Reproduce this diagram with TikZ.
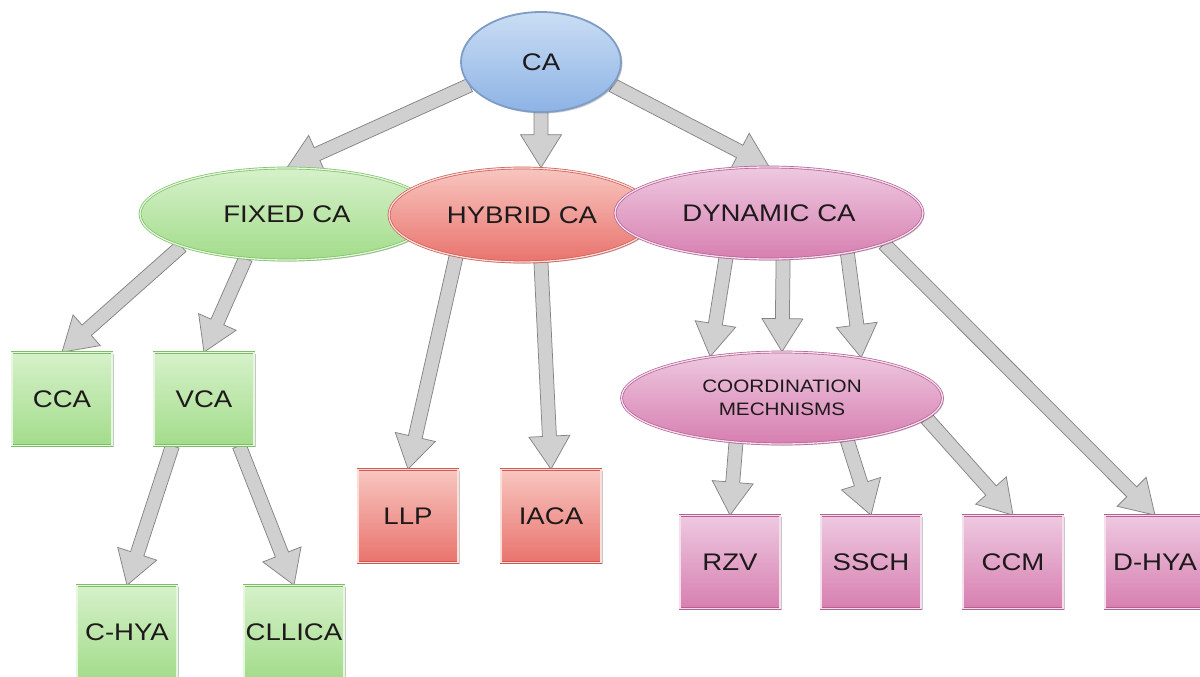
\documentclass[tikz,border=0pt]{standalone}
\usepackage{fontspec}
\setmainfont{Liberation Sans}[FakeStretch=1.15]
\usetikzlibrary{shapes.geometric,calc,shadows,backgrounds}

\definecolor{txt}{HTML}{1E1A1C}
% blue root
\definecolor{caTop}{HTML}{CADDF4}
\definecolor{caBot}{HTML}{8DB3E5}
\definecolor{caEdge}{HTML}{7F9CC7}
% green family
\definecolor{gTop}{HTML}{D6F1CA}
\definecolor{gBot}{HTML}{A3DC8B}
\definecolor{gEdge}{HTML}{7DBE64}
% red family
\definecolor{rTop}{HTML}{F8C6C0}
\definecolor{rBot}{HTML}{E9736D}
\definecolor{rEdge}{HTML}{CF5A54}
% pink family
\definecolor{pTop}{HTML}{EEC9E0}
\definecolor{pBot}{HTML}{D77FB0}
\definecolor{pEdge}{HTML}{B46094}
% connectors
\definecolor{arrFill}{HTML}{D0D0D0}
\definecolor{arrEdge}{HTML}{858585}

\pgfdeclarelayer{paper}
\pgfsetlayers{paper,background,main}

\tikzset{
  base/.style={line width=0.7pt, double distance=1.3pt, text=txt, inner sep=0pt,
    font=\fontsize{24}{28}\selectfont,
    drop shadow={shadow xshift=1.5pt, shadow yshift=-1.5pt, opacity=0.22, fill=black}},
  oval/.style={base, ellipse},
  box/.style={base, rectangle, minimum width=100pt, minimum height=93pt},
  rootclr/.style={top color=caTop, bottom color=caBot, draw=caEdge, double distance=0pt, line width=0.9pt},
  fixclr/.style={top color=gTop, bottom color=gBot, draw=gEdge, double=gTop!60!white},
  hybclr/.style={top color=rTop, bottom color=rBot, draw=rEdge, double=rTop!60!white},
  dynclr/.style={top color=pTop, bottom color=pBot, draw=pEdge, double=pTop!60!white},
  arrowbody/.style={fill=arrFill, draw=arrEdge, line width=0.75pt, line join=miter}
}

% thick block arrow from #1 to the tip #2
\newcommand\blockarrow[2]{%
  \coordinate (hb) at ($(#2)!33pt!(#1)$);
  \path[arrowbody] ($(#1)!7pt!90:(#2)$) -- ($(hb)!7pt!-90:(#1)$) -- ($(hb)!20.5pt!-90:(#1)$)
    -- (#2) -- ($(hb)!20.5pt!90:(#1)$) -- ($(hb)!7pt!90:(#1)$) -- ($(#1)!7pt!-90:(#2)$) -- cycle;
}

\begin{document}
\begin{tikzpicture}[x=1pt,y=-1pt]
  \clip (0,0) rectangle (1200,677);
  \begin{pgfonlayer}{paper}
    \fill[white] (0,0) rectangle (1200,677);
  \end{pgfonlayer}

  % root
  \node[oval, rootclr, minimum width=160pt, minimum height=100pt] (ca) at (541,62) {CA};

  % second level
  \node[oval, fixclr, minimum width=294pt, minimum height=92pt] (fixed) at (287,214) {FIXED CA};
  \node[oval, hybclr, minimum width=266pt, minimum height=94pt] (hybrid) at (522,215) {HYBRID CA};
  \node[oval, dynclr, minimum width=308pt, minimum height=92pt] (dynamic) at (769,213) {DYNAMIC CA};

  % fixed branch
  \node[box, fixclr] (cca) at (62,399) {CCA};
  \node[box, fixclr] (vca) at (204,399) {VCA};
  \node[box, fixclr] (chya) at (127,632) {C-HYA};
  \node[box, fixclr] (cllica) at (294,632) {CLLICA};

  % hybrid branch
  \node[box, hybclr] (llp) at (408,516) {LLP};
  \node[box, hybclr] (iaca) at (551,516) {IACA};

  % dynamic branch
  \node[oval, dynclr, minimum width=321pt, minimum height=92pt, align=center,
        font=\fontsize{18}{23}\selectfont] (coord) at (782,398) {COORDINATION\\MECHNISMS};
  \node[box, dynclr] (rzv) at (730,562) {RZV};
  \node[box, dynclr] (ssch) at (871,562) {SSCH};
  \node[box, dynclr] (ccm) at (1013,562) {CCM};
  \node[box, dynclr] (dhya) at (1155,562) {D-HYA};

  \begin{scope}[on background layer]
    \blockarrow{ca.198}{fixed.north}
    \blockarrow{ca.south}{ca.south |- hybrid.north}
    \blockarrow{ca.342}{dynamic.north}

    \blockarrow{fixed.197}{cca.north}
    \blockarrow{fixed.227}{vca.north}
    \blockarrow{vca.236}{chya.north}
    \blockarrow{vca.307}{cllica.north}

    \blockarrow{hybrid.212}{llp.north}
    \blockarrow{hybrid.292}{iaca.north}

    \blockarrow{dynamic.226}{coord.150}
    \blockarrow{dynamic.287}{coord.north}
    \blockarrow{dynamic.333}{coord.27}
    \blockarrow{dynamic.345}{dhya.north}

    \blockarrow{coord.224}{rzv.north}
    \blockarrow{coord.327}{ssch.north}
    \blockarrow{coord.352}{ccm.north}
  \end{scope}
\end{tikzpicture}
\end{document}
